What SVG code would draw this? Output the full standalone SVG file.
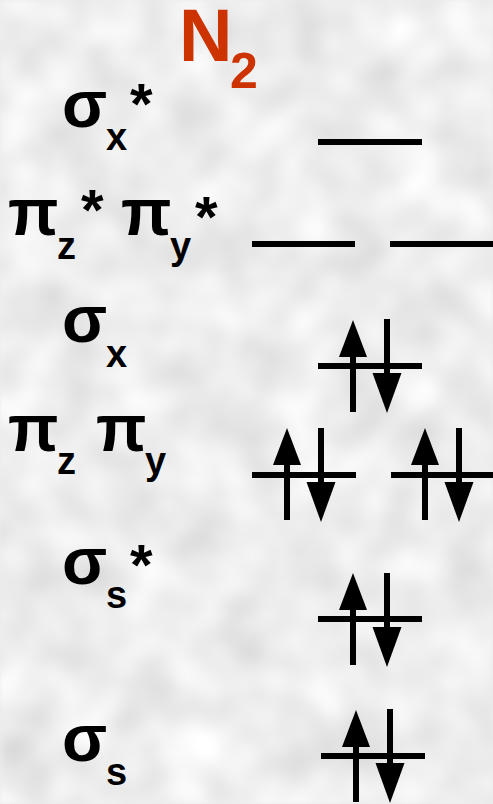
<svg xmlns="http://www.w3.org/2000/svg" width="493" height="804" viewBox="0 0 493 804">
<style>
.lbl{font-family:"Liberation Sans",Arial,sans-serif;font-weight:bold;fill:#000}
.m{font-size:66px}
.a{font-size:58px}
.s{font-size:38px}
.title{font-family:"Liberation Sans",Arial,sans-serif;font-weight:bold;fill:#cc3300}
.lvl{stroke:#000;stroke-width:6;fill:none}
</style>
<defs>
<filter id="tex" x="0" y="0" width="100%" height="100%" color-interpolation-filters="sRGB">
<feTurbulence type="fractalNoise" baseFrequency="0.018" numOctaves="2" seed="7"/>
<feColorMatrix type="matrix" values="0.2 0 0 0 0.83  0.2 0 0 0 0.83  0.2 0 0 0 0.83  0 0 0 0 1"/>
<feGaussianBlur stdDeviation="2"/>
</filter>
<g id="up"><polygon points="0,0 -14,37 14,37"/><rect x="-3" y="36" width="6" height="56"/></g>
<g id="down"><rect x="-3" y="0" width="6" height="56"/><polygon points="-14.5,54 14.5,54 0,94"/></g>
</defs>
<rect width="493" height="804" fill="#ebebeb"/>
<rect width="493" height="804" fill="#ebebeb" filter="url(#tex)"/>
<g id="title">
<text class="title" x="179" y="61" font-size="74">N</text>
<text class="title" x="230" y="88" font-size="50">2</text>
</g>
<g id="labels">
<g id="lbl-sigma-x-star" class="lbl"><text class="m" x="62" y="127">σ</text><text class="s" x="106" y="150">x</text><text class="a" x="130" y="124">*</text></g>
<g id="lbl-pi-star" class="lbl"><text class="m" x="8" y="235">π</text><text class="s" x="57" y="259">z</text><text class="a" x="81" y="230">*</text><text class="m" x="121" y="235">π</text><text class="s" x="170" y="259">y</text><text class="a" x="195" y="237">*</text></g>
<g id="lbl-sigma-x" class="lbl"><text class="m" x="62" y="342">σ</text><text class="s" x="106" y="367">x</text></g>
<g id="lbl-pi" class="lbl"><text class="m" x="8" y="451">π</text><text class="s" x="57" y="474">z</text><text class="m" x="96" y="451">π</text><text class="s" x="145" y="474">y</text></g>
<g id="lbl-sigma-s-star" class="lbl"><text class="m" x="62" y="584">σ</text><text class="s" x="106" y="608">s</text><text class="a" x="130" y="585">*</text></g>
<g id="lbl-sigma-s" class="lbl"><text class="m" x="62" y="761">σ</text><text class="s" x="106" y="785">s</text></g>
</g>
<g id="level-sigma-x-star"><line class="lvl" x1="318" y1="142" x2="422" y2="142"/></g>
<g id="level-pi-z-star"><line class="lvl" x1="252" y1="244" x2="355" y2="244"/></g>
<g id="level-pi-y-star"><line class="lvl" x1="390" y1="244" x2="493" y2="244"/></g>
<g id="level-sigma-x"><line class="lvl" x1="318" y1="366" x2="422" y2="366"/><use href="#up" x="353" y="320"/><use href="#down" x="387" y="319"/></g>
<g id="level-pi-z"><line class="lvl" x1="252" y1="475" x2="356" y2="475"/><use href="#up" x="287" y="428"/><use href="#down" x="321" y="428"/></g>
<g id="level-pi-y"><line class="lvl" x1="391" y1="475" x2="495" y2="475"/><use href="#up" x="425" y="428"/><use href="#down" x="459" y="428"/></g>
<g id="level-sigma-s-star"><line class="lvl" x1="318" y1="619" x2="422" y2="619"/><use href="#up" x="353" y="573"/><use href="#down" x="387" y="573"/></g>
<g id="level-sigma-s"><line class="lvl" x1="321" y1="756" x2="425" y2="756"/><use href="#up" x="356" y="710"/><use href="#down" x="390" y="709"/></g>
<g id="connectors"/>
</svg>
